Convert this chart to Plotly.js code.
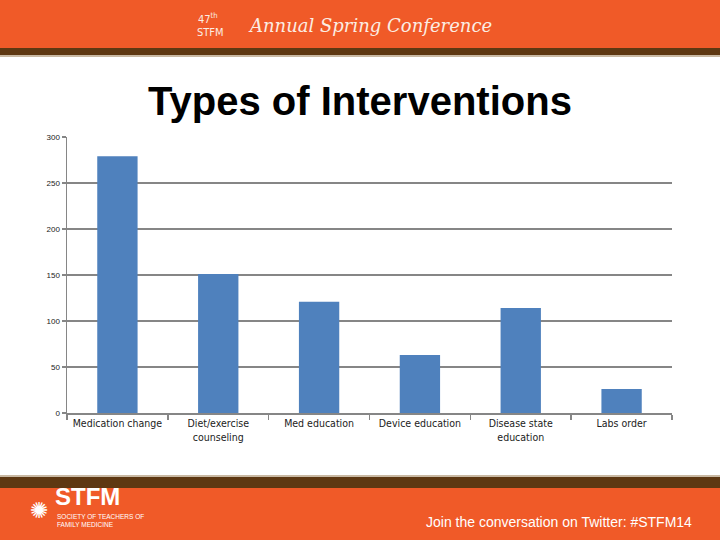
<!DOCTYPE html>
<html>
<head>
<meta charset="utf-8">
<script src="https://cdn.plot.ly/plotly-3.0.1.min.js"></script>
<style>html,body{margin:0;padding:0;background:#fff;}#chart{width:720px;height:540px;}</style>
</head>
<body>
<div id="chart"></div>
<script>
const categories = ["Medication change", "Diet/exercise<br>counseling", "Med education", "Device education", "Disease state<br>education", "Labs order"];
const values = [279, 151, 121, 63, 114, 26];
const yTicks = [0, 50, 100, 150, 200, 250, 300];

const orange = "#F05A28";
const brown = "#5E3812";

const trace = {
  type: "bar",
  x: categories,
  y: values,
  width: 0.4,
  marker: {color: "#4F81BD"},
  hoverinfo: "skip"
};

const plotH = 540 - 137 - 127, plotW = 720 - 67 - 48;
function py(p){ return (540 - 127 - p) / plotH; }
function px(p){ return (p - 67) / plotW; }

const layout = {
  width: 720, height: 540,
  paper_bgcolor: "#fff", plot_bgcolor: "#fff",
  margin: {l: 67, r: 48, t: 137, b: 127},
  showlegend: false,
  title: {text: "<b>Types of Interventions</b>", font: {family: "Liberation Sans, Arial", size: 40, color: "#000"}, x: 0.5, xanchor: "center", y: 1 - 101/540, yanchor: "middle"},
  xaxis: {
    type: "category",
    showline: true, linecolor: "#868686", linewidth: 1.5,
    ticks: "outside", tickson: "boundaries", ticklen: 5, tickcolor: "#868686", tickwidth: 1.5,
    tickfont: {family: "DejaVu Sans Condensed, Liberation Sans", size: 10.5, color: "#222"},
    showgrid: false, fixedrange: true
  },
  yaxis: {
    range: [0, 300], tickvals: yTicks, ticktext: yTicks.map(String),
    showline: true, linecolor: "#868686", linewidth: 1.5,
    ticks: "outside", ticklen: 4, tickcolor: "#868686", tickwidth: 1.5,
    showgrid: true, gridcolor: "#868686", gridwidth: 1.8,
    tickfont: {family: "Liberation Sans, Arial", size: 8, color: "#222"},
    zeroline: false, fixedrange: true
  },
  shapes: [
    {type: "rect", xref: "paper", yref: "paper", x0: px(0), x1: px(720), y0: py(0), y1: py(48), fillcolor: orange, line: {width: 0}, layer: "below"},
    {type: "rect", xref: "paper", yref: "paper", x0: px(0), x1: px(720), y0: py(48), y1: py(55), fillcolor: brown, line: {width: 0}, layer: "below"},
    {type: "rect", xref: "paper", yref: "paper", x0: px(0), x1: px(720), y0: py(55), y1: py(57), fillcolor: "#C9B9A3", line: {width: 0}, layer: "below"},
    {type: "rect", xref: "paper", yref: "paper", x0: px(0), x1: px(720), y0: py(475), y1: py(477), fillcolor: "#C9B9A3", line: {width: 0}, layer: "below"},
    {type: "rect", xref: "paper", yref: "paper", x0: px(0), x1: px(720), y0: py(477), y1: py(488), fillcolor: brown, line: {width: 0}, layer: "below"},
    {type: "rect", xref: "paper", yref: "paper", x0: px(0), x1: px(720), y0: py(488), y1: py(540), fillcolor: orange, line: {width: 0}, layer: "below"}
  ],
  annotations: [
    {xref: "paper", yref: "paper", x: px(196), y: py(18), text: "47<sup>th</sup>", showarrow: false, xanchor: "left", yanchor: "middle", font: {family: "DejaVu Sans Condensed", size: 11, color: "#FBEDE3"}},
    {xref: "paper", yref: "paper", x: px(195), y: py(32), text: "STFM", showarrow: false, xanchor: "left", yanchor: "middle", font: {family: "DejaVu Sans Condensed", size: 11, color: "#FBEDE3"}},
    {xref: "paper", yref: "paper", x: px(246), y: py(25), text: "<i>Annual Spring Conference</i>", showarrow: false, xanchor: "left", yanchor: "middle", font: {family: "DejaVu Serif", size: 18, color: "#FBEDE3"}},
    {xref: "paper", yref: "paper", x: px(28), y: py(510), text: "✺", showarrow: false, xanchor: "left", yanchor: "middle", font: {family: "DejaVu Sans", size: 22, color: "#fff"}},
    {xref: "paper", yref: "paper", x: px(53), y: py(496), text: "<b>STFM</b>", showarrow: false, xanchor: "left", yanchor: "middle", font: {family: "Liberation Sans", size: 24, color: "#fff"}},
    {xref: "paper", yref: "paper", x: px(55), y: py(520), text: "SOCIETY OF TEACHERS OF<br>FAMILY MEDICINE", showarrow: false, xanchor: "left", yanchor: "middle", align: "left", font: {family: "Liberation Sans Narrow, Liberation Sans", size: 6.5, color: "#fff"}},
    {xref: "paper", yref: "paper", x: px(694), y: py(522), text: "Join the conversation on Twitter: #STFM14", showarrow: false, xanchor: "right", yanchor: "middle", font: {family: "Liberation Sans Narrow, Liberation Sans", size: 14, color: "#fff"}}
  ]
};

Plotly.newPlot("chart", [trace], layout, {displayModeBar: false, staticPlot: true});
</script>
</body>
</html>
